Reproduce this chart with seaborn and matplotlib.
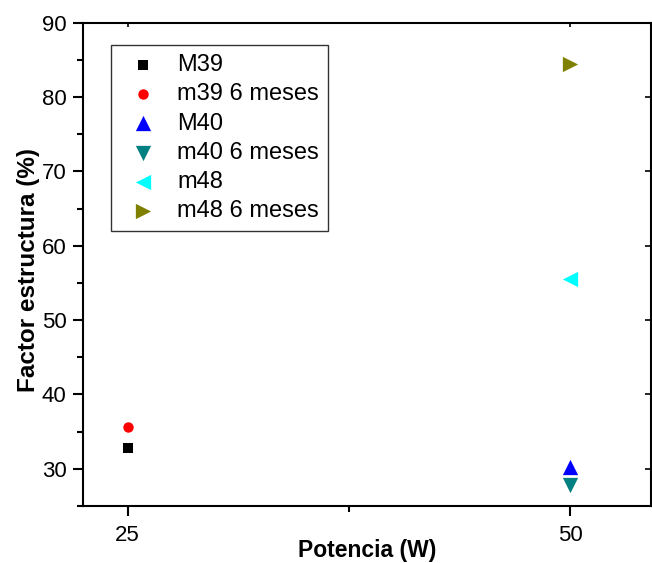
import matplotlib
matplotlib.use("Agg")
import matplotlib.pyplot as plt
import seaborn as sns
import pandas as pd
from matplotlib.ticker import MultipleLocator

series = ["M39", "m39 6 meses", "M40", "m40 6 meses", "m48", "m48 6 meses"]
potencia = [25, 25, 50, 50, 50, 50]
factor = [32.8, 35.65, 30.2, 27.8, 55.5, 84.5]
colors = ["#000000", "#ff0000", "#0000ff", "#008080", "#00ffff", "#808000"]
markers = ["s", "o", "^", "v", "<", ">"]
sizes = [6.5, 7.5, 11, 11, 11, 11]

df = pd.DataFrame({"serie": series, "Potencia": potencia, "Factor": factor})

sns.set_theme(style="ticks")
plt.rcParams["font.family"] = ["Liberation Sans", "DejaVu Sans"]
plt.rcParams["text.color"] = "black"
plt.rcParams["axes.labelcolor"] = "black"

fig = plt.figure(figsize=(6.52, 5.63), dpi=100)
ax = fig.add_axes([0.1278, 0.1012, 0.8707, 0.8585])

for s, c, m, z in zip(series, colors, markers, sizes):
    sub = df[df["serie"] == s]
    sns.scatterplot(data=sub, x="Potencia", y="Factor", color=c, marker=m,
                    s=z**2, linewidth=0, ax=ax, label=s, legend=False)

ax.set_xlim(22.5, 54.56)
ax.set_ylim(25, 90)
ax.xaxis.set_major_locator(MultipleLocator(25))
ax.xaxis.set_minor_locator(MultipleLocator(12.5))
ax.yaxis.set_major_locator(MultipleLocator(10))
ax.yaxis.set_minor_locator(MultipleLocator(5))

for sp in ax.spines.values():
    sp.set_linewidth(1.5)
    sp.set_color("black")

ax.tick_params(which="major", direction="out", length=7, width=1.5,
               labelsize=16, colors="black")
ax.tick_params(axis="x", which="major", pad=7)
ax.tick_params(axis="y", which="major", pad=5)
ax.tick_params(which="minor", direction="out", length=4, width=1.5, colors="black")
ax.tick_params(which="both", top=False, right=False)

axt = ax.twiny()
axt.set_xlim(ax.get_xlim())
axt.xaxis.set_major_locator(MultipleLocator(25))
axt.tick_params(axis="x", direction="in", length=3, width=1.2, labeltop=False, colors="black")
axr = ax.twinx()
axr.set_ylim(ax.get_ylim())
axr.yaxis.set_major_locator(MultipleLocator(10))
axr.tick_params(axis="y", direction="in", length=4, width=1.2, labelright=False, colors="black")
for a in (axt, axr):
    for sp in a.spines.values():
        sp.set_visible(False)

ax.set_xlabel("Potencia (W)", fontsize=16.5, fontweight="bold", va="center", color="black")
ax.xaxis.set_label_coords(0.5, -0.093)
ax.set_ylabel("Factor estructura (%)", fontsize=17.5, fontweight="bold", va="center", color="black")
ax.yaxis.set_label_coords(-0.097, 0.488)

h, l = ax.get_legend_handles_labels()
leg = ax.legend(h, l, loc="upper left", bbox_to_anchor=(0.048, 0.954),
                borderaxespad=0, frameon=True, fancybox=False, fontsize=17,
                handletextpad=0.45, labelspacing=0.31, borderpad=0.38,
                markerscale=1.0)
leg.get_frame().set_edgecolor("black")
leg.get_frame().set_linewidth(1.0)
for t in leg.get_texts():
    t.set_color("black")

fig.savefig("out.png", dpi=100)
